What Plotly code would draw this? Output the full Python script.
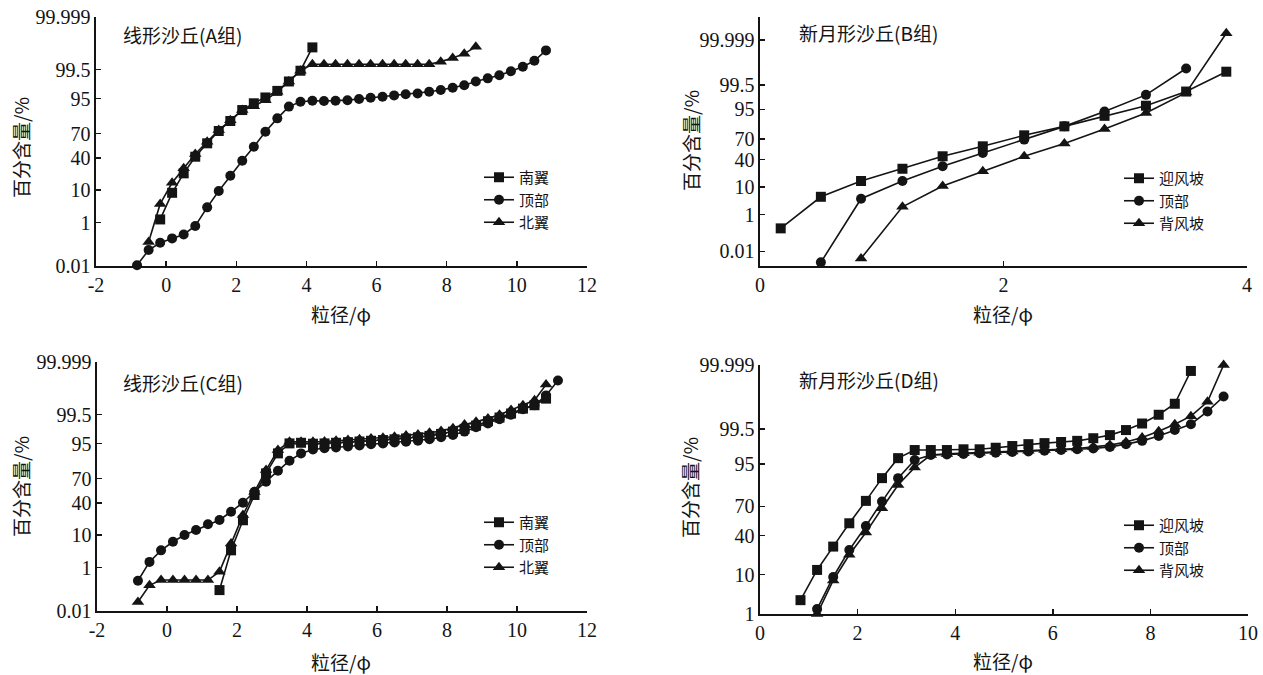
import plotly.graph_objects as go
from statistics import NormalDist

# ---------------- data (cumulative percentage, %) ----------------
tick_pct = [0.01, 1, 10, 40, 70, 95, 99.5, 99.999]
tick_lbl = ["0.01", "1", "10", "40", "70", "95", "99.5", "99.999"]
x_ticks_ac = [-2, 0, 2, 4, 6, 8, 10, 12]
x_lbl_ac = ["-2", "0", "2", "4", "6", "8", "10", "12"]
x_ticks_b = [0, 2, 4]
x_lbl_b = ["0", "2", "4"]
x_ticks_d = [0, 2, 4, 6, 8, 10]
x_lbl_d = ["0", "2", "4", "6", "8", "10"]

# A group: linear dunes
a_south_x = [-0.17, 0.17, 0.5, 0.83, 1.17, 1.5, 1.83, 2.17, 2.5, 2.83, 3.17, 3.5, 3.83, 4.17]
a_south_y = [1.3, 8.5, 22.7, 41.5, 58.5, 72.9, 82.4, 90.0, 93.3, 95.4, 97.1, 98.6, 99.45, 99.95]
a_top_x = [-0.83, -0.5, -0.17, 0.17, 0.5, 0.83, 1.17, 1.5, 1.83, 2.17, 2.5, 2.83, 3.17, 3.5, 3.83,
           4.17, 4.5, 4.83, 5.17, 5.5, 5.83, 6.17, 6.5, 6.83, 7.17, 7.5, 7.83, 8.17, 8.5, 8.83,
           9.17, 9.5, 9.83, 10.17, 10.5, 10.83]
a_top_y = [0.011, 0.067, 0.147, 0.23, 0.34, 0.74, 3.3, 9.4, 20.5, 36.5, 54.2, 72.1, 84.5, 91.8, 93.9,
           94.3, 94.2, 94.3, 94.5, 94.9, 95.3, 95.6, 96.0, 96.3, 96.5, 96.9, 97.3, 97.7, 98.1, 98.6,
           98.92, 99.17, 99.42, 99.62, 99.79, 99.93]
a_north_x = [-0.5, -0.17, 0.17, 0.5, 0.83, 1.17, 1.5, 1.83, 2.17, 2.5, 2.83, 3.17, 3.5, 3.83,
             4.17, 4.5, 4.83, 5.17, 5.5, 5.83, 6.17, 6.5, 6.83, 7.17, 7.5, 7.83, 8.17, 8.5, 8.83]
a_north_y = [0.16, 4.2, 14.7, 27.9, 44.9, 60.5, 73.9, 83.0, 90.0, 92.0, 94.5, 96.9, 98.6, 99.45,
             99.7, 99.7, 99.7, 99.7, 99.7, 99.7, 99.7, 99.7, 99.7, 99.7, 99.7, 99.77, 99.84, 99.90, 99.953]

# B group: barchan dunes
b_wind_x = [0.17, 0.5, 0.83, 1.17, 1.5, 1.83, 2.17, 2.5, 2.83, 3.17, 3.5, 3.83]
b_wind_y = [0.22, 4.9, 14.5, 27.6, 45.1, 60.0, 74.8, 84.3, 92.0, 96.3, 98.99, 99.894]
b_top_x = [0.5, 0.83, 1.17, 1.5, 1.83, 2.17, 2.5, 2.83, 3.17, 3.5]
b_top_y = [0.0018, 4.2, 14.5, 30.9, 50.0, 69.4, 84.3, 94.2, 98.6, 99.93]
b_lee_x = [0.83, 1.17, 1.5, 1.83, 2.17, 2.5, 2.83, 3.17, 3.5, 3.83]
b_lee_y = [0.0034, 2.1, 10.6, 24.6, 45.1, 63.9, 81.8, 93.5, 98.88, 99.9997]

# C group: linear dunes
c_south_x = [1.5, 1.83, 2.17, 2.5, 2.83, 3.17, 3.5, 3.83, 4.17, 4.5, 4.83, 5.17, 5.5, 5.83, 6.17,
             6.5, 6.83, 7.17, 7.5, 7.83, 8.17, 8.5, 8.83, 9.17, 9.5, 9.83, 10.17, 10.5, 10.83]
c_south_y = [0.115, 3.8, 20.9, 50.0, 75.6, 90.9, 95.1, 95.3, 95.0, 95.1, 95.3, 95.5, 95.7, 95.9, 96.1,
             96.3, 96.5, 96.8, 97.1, 97.5, 97.9, 98.3, 98.7, 99.1, 99.35, 99.55, 99.72, 99.8, 99.9]
c_top_x = [-0.83, -0.5, -0.17, 0.17, 0.5, 0.83, 1.17, 1.5, 1.83, 2.17, 2.5, 2.83, 3.17, 3.5, 3.83,
           4.17, 4.5, 4.83, 5.17, 5.5, 5.83, 6.17, 6.5, 6.83, 7.17, 7.5, 7.83, 8.17, 8.5, 8.83,
           9.17, 9.5, 9.83, 10.17, 10.5, 10.83, 11.17]
c_top_y = [0.30, 1.6, 3.8, 6.7, 10.0, 13.1, 17.4, 21.2, 29.6, 40.2, 54.2, 66.5, 78.2, 86.4, 90.9,
           92.8, 93.3, 93.6, 94.0, 94.4, 94.8, 95.1, 95.4, 95.6, 95.9, 96.3, 96.8, 97.3, 97.9, 98.5,
           98.9, 99.25, 99.5, 99.7, 99.8, 99.93, 99.988]
c_north_x = [-0.83, -0.5, -0.17, 0.17, 0.5, 0.83, 1.17, 1.5, 1.83, 2.17, 2.5, 2.83, 3.17, 3.5, 3.83,
             4.17, 4.5, 4.83, 5.17, 5.5, 5.83, 6.17, 6.5, 6.83, 7.17, 7.5, 7.83, 8.17, 8.5, 8.83,
             9.17, 9.5, 9.83, 10.17, 10.5, 10.83]
c_north_y = [0.03, 0.19, 0.32, 0.32, 0.32, 0.32, 0.32, 0.7, 6.0, 26.0, 54.0, 78.8, 92.5, 95.6, 95.6,
             95.6, 95.7, 95.9, 96.1, 96.3, 96.5, 96.7, 96.9, 97.2, 97.4, 97.7, 98.0, 98.4, 98.8, 99.05,
             99.3, 99.5, 99.68, 99.8, 99.88, 99.98]

# D group: barchan dunes
d_wind_x = [0.83, 1.17, 1.5, 1.83, 2.17, 2.5, 2.83, 3.17, 3.5, 3.83, 4.17, 4.5, 4.83, 5.17, 5.5,
            5.83, 6.17, 6.5, 6.83, 7.17, 7.5, 7.83, 8.17, 8.5, 8.83]
d_wind_y = [2.5, 12.3, 29.4, 53.0, 74.8, 89.8, 96.4, 97.8, 97.8, 97.8, 97.9, 97.9, 98.1, 98.3, 98.5,
            98.6, 98.7, 98.8, 99.0, 99.2, 99.45, 99.67, 99.84, 99.94, 99.998]
d_top_x = [1.17, 1.5, 1.83, 2.17, 2.5, 2.83, 3.17, 3.5, 3.83, 4.17, 4.5, 4.83, 5.17, 5.5, 5.83,
           6.17, 6.5, 6.83, 7.17, 7.5, 7.83, 8.17, 8.5, 8.83, 9.17, 9.5]
d_top_y = [1.4, 8.9, 26.4, 50.0, 74.2, 89.8, 96.0, 97.0, 97.1, 97.2, 97.3, 97.4, 97.5, 97.6, 97.7,
           97.8, 97.9, 98.0, 98.2, 98.5, 98.8, 99.15, 99.45, 99.65, 99.88, 99.97]
d_lee_x = d_top_x
d_lee_y = [1.0, 7.5, 22.4, 43.2, 68.2, 86.2, 94.0, 97.0, 97.2, 97.3, 97.4, 97.5, 97.6, 97.7, 97.8,
           97.9, 98.0, 98.2, 98.4, 98.7, 99.05, 99.4, 99.65, 99.82, 99.95, 99.999]

# ---------------- probability (probit) scale ----------------
_N = NormalDist()


def probit(vals):
    return [_N.inv_cdf(v / 100.0) for v in vals]


INK = "#141414"
SERIF = "'Liberation Serif', 'Times New Roman', 'Noto Sans CJK SC', serif"
CJK = "'Noto Sans CJK SC', 'Liberation Serif', sans-serif"

W, H = 1263, 675

fig = go.Figure()


def add(x, y, name, symbol, xa, ya, leg, msize=10):
    fig.add_trace(go.Scatter(
        x=x, y=probit(y), name=name, mode="lines+markers", cliponaxis=False,
        line=dict(color=INK, width=1.6),
        marker=dict(symbol=symbol, size=msize, color=INK, line=dict(width=0)),
        xaxis=xa, yaxis=ya, legend=leg, showlegend=True))


add(a_south_x, a_south_y, "南翼", "square", "x", "y", "legend")
add(a_top_x, a_top_y, "顶部", "circle", "x", "y", "legend")
add(a_north_x, a_north_y, "北翼", "triangle-up", "x", "y", "legend", 11)

add(b_wind_x, b_wind_y, "迎风坡", "square", "x2", "y2", "legend2")
add(b_top_x, b_top_y, "顶部", "circle", "x2", "y2", "legend2")
add(b_lee_x, b_lee_y, "背风坡", "triangle-up", "x2", "y2", "legend2", 11)

add(c_south_x, c_south_y, "南翼", "square", "x3", "y3", "legend3")
add(c_top_x, c_top_y, "顶部", "circle", "x3", "y3", "legend3")
add(c_north_x, c_north_y, "北翼", "triangle-up", "x3", "y3", "legend3", 11)

add(d_wind_x, d_wind_y, "迎风坡", "square", "x4", "y4", "legend4")
add(d_top_x, d_top_y, "顶部", "circle", "x4", "y4", "legend4")
add(d_lee_x, d_lee_y, "背风坡", "triangle-up", "x4", "y4", "legend4", 11)


def px_x(p):
    return p / W


def px_y(p):
    return 1 - p / H


panels = {
    # name: (left, right, top, bottom) in page px, x range, x ticks, y range, y ticks
    "1": ((96, 587, 17, 266), [-2, 12], (x_ticks_ac, x_lbl_ac),
          (probit([0.01])[0], probit([99.999])[0]), tick_pct, tick_lbl),
    "2": ((760, 1247, 17, 266), [0, 4], (x_ticks_b, x_lbl_b), (-4.27, 5.14), tick_pct, tick_lbl),
    "3": ((97, 587, 362, 611), [-2, 12], (x_ticks_ac, x_lbl_ac),
          (probit([0.01])[0], probit([99.999])[0]), tick_pct, tick_lbl),
    "4": ((760, 1248, 365, 614), [0, 10], (x_ticks_d, x_lbl_d),
          (probit([1])[0], probit([99.999])[0]), tick_pct[1:], tick_lbl[1:]),
}

layout = dict(
    width=W, height=H, margin=dict(l=0, r=0, t=0, b=0, pad=0, autoexpand=False),
    paper_bgcolor="white", plot_bgcolor="white",
    font=dict(family=SERIF, size=19, color=INK),
    showlegend=True,
)

for k, ((l, r, t, b), xr, (xtv, xtt), yr, tv, tt) in panels.items():
    xa = "xaxis" if k == "1" else "xaxis" + k
    ya = "yaxis" if k == "1" else "yaxis" + k
    yname = "y" if k == "1" else "y" + k
    xname = "x" if k == "1" else "x" + k
    layout[xa] = dict(
        domain=[px_x(l), px_x(r)], range=xr, anchor=yname, automargin=False,
        tickmode="array", tickvals=xtv, ticktext=xtt,
        showline=True, linecolor=INK, linewidth=1.6, showgrid=False, zeroline=False,
        ticks="inside", ticklen=5, tickwidth=1.4, tickcolor=INK,
        tickfont=dict(family=SERIF, size=20, color=INK), fixedrange=True)
    layout[ya] = dict(
        domain=[px_y(b), px_y(t)], range=list(yr), anchor=xname, automargin=False,
        tickmode="array", tickvals=probit(tv), ticktext=tt,
        showline=True, linecolor=INK, linewidth=1.6, showgrid=False, zeroline=False,
        ticks="inside", ticklen=5, tickwidth=1.4, tickcolor=INK,
        tickfont=dict(family=SERIF, size=20, color=INK), fixedrange=True)

leg_common = dict(bgcolor="rgba(0,0,0,0)", borderwidth=0, font=dict(family=CJK, size=15, color=INK),
                  xanchor="left", yanchor="top", tracegroupgap=0, itemsizing="trace", itemwidth=30)
layout["legend"] = dict(x=px_x(479), y=px_y(161), **leg_common)
layout["legend2"] = dict(x=px_x(1119), y=px_y(162), **leg_common)
layout["legend3"] = dict(x=px_x(479), y=px_y(506), **leg_common)
layout["legend4"] = dict(x=px_x(1119), y=px_y(509), **leg_common)

fig.update_layout(**layout)

ann = []


def text(x, y, s, size=19, angle=0, xanchor="center", family=CJK):
    ann.append(dict(x=px_x(x), y=px_y(y), xref="paper", yref="paper", text=s, showarrow=False,
                    xanchor=xanchor, yanchor="middle", textangle=angle,
                    font=dict(family=family, size=size, color=INK)))


# panel titles
text(121, 35, "线形沙丘(A组)", 19, xanchor="left")
text(797, 33, "新月形沙丘(B组)", 19, xanchor="left")
text(121, 383, "线形沙丘(C组)", 19, xanchor="left")
text(797, 379, "新月形沙丘(D组)", 19, xanchor="left")
# y titles
for (xx, yy) in [(20, 148), (690, 141), (20, 487), (690, 488)]:
    text(xx, yy, "百分含量/%", 19, angle=-90)
# x titles
for (xx, yy) in [(341, 313), (1003, 313), (341, 661), (1003, 660)]:
    text(xx, yy, "粒径/φ", 19)

fig.update_layout(annotations=ann)
# place the figure at the page's top-left corner (no default body margin)
fig.write_html("out.html", config={"displayModeBar": False, "staticPlot": True},
               post_script="document.body.style.margin='0px';")
